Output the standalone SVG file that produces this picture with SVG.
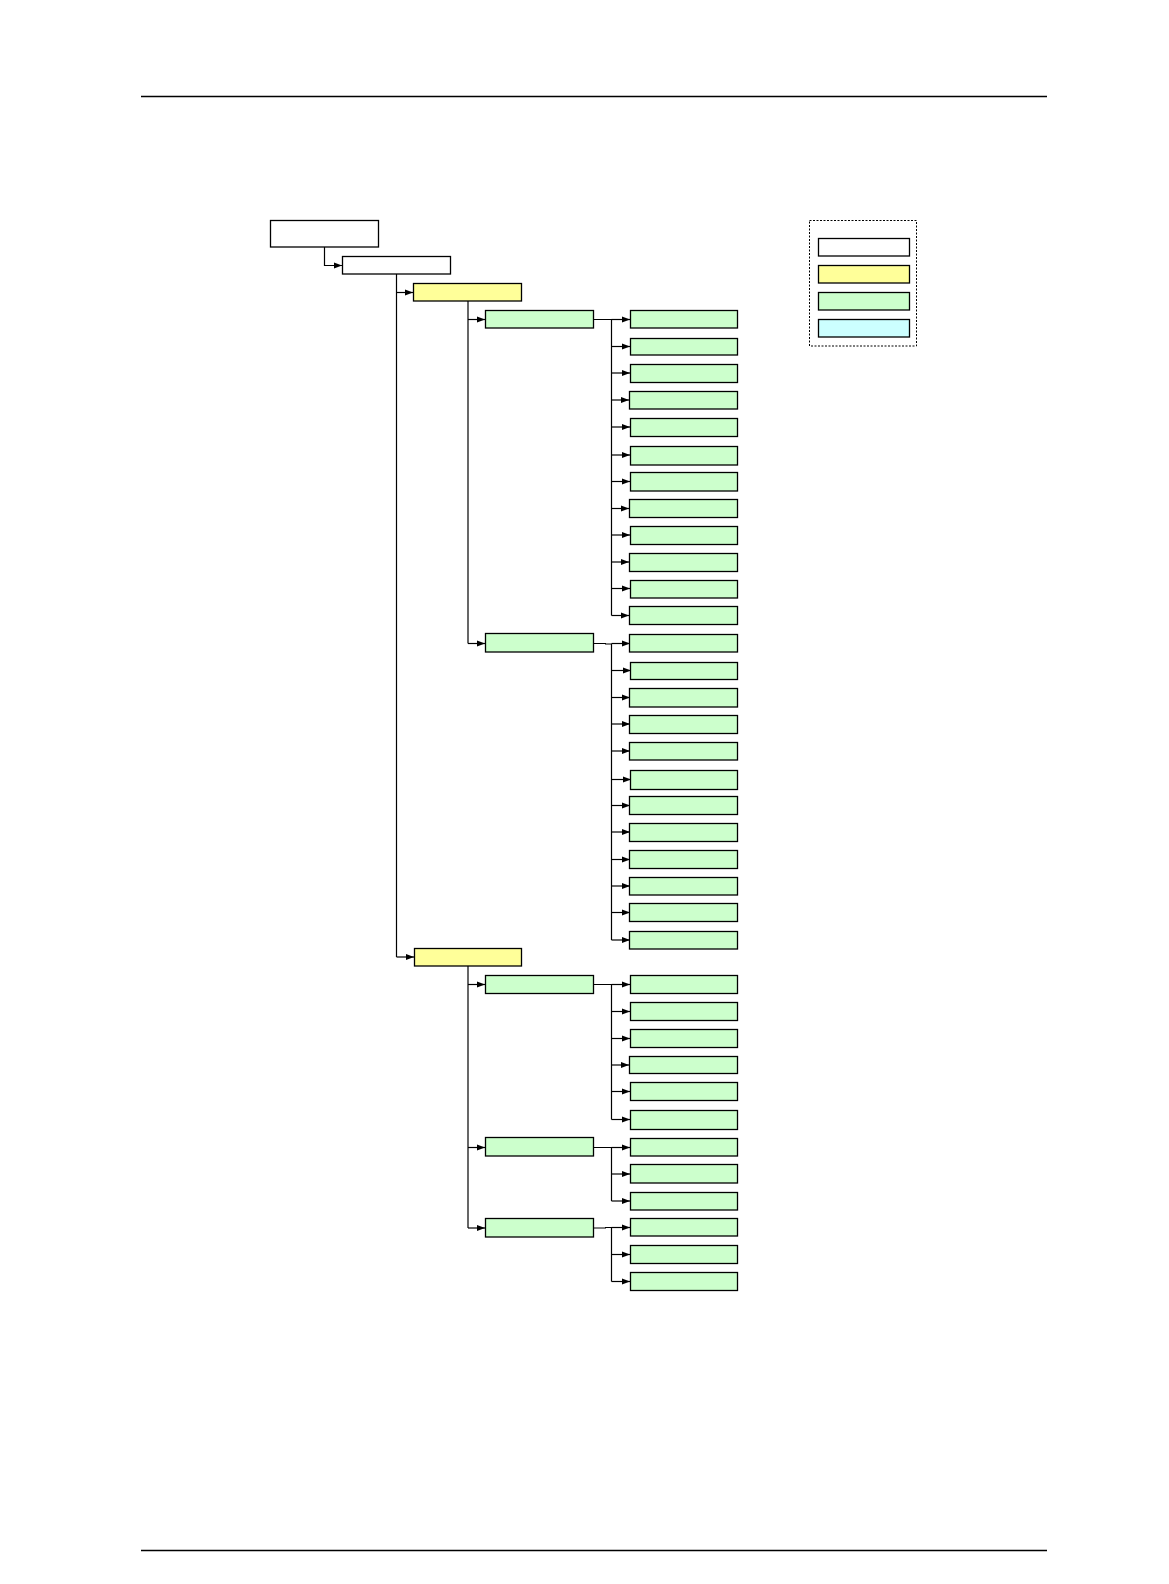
<svg xmlns="http://www.w3.org/2000/svg" width="1169" height="1584" viewBox="0 0 1169 1584">
<style>
.box{stroke:#000;stroke-width:1.3}
.w{fill:#ffffff}
.y{fill:#ffff99}
.g{fill:#ccffcc}
.c{fill:#ccffff}
.ln{fill:none;stroke:#000;stroke-width:1.2}
.arr{fill:none;stroke:#000;stroke-width:1.2;marker-end:url(#ah)}
.rule{stroke:#000;stroke-width:1.3}
</style>
<defs>
<marker id="ah" markerUnits="userSpaceOnUse" markerWidth="9" markerHeight="7" refX="8" refY="3.5" orient="auto">
<path d="M0,0.5 L8,3.5 L0,6.5 z" fill="#000"/>
</marker>
</defs>
<rect width="1169" height="1584" fill="#fff"/>
<line class="rule" x1="141" y1="96.5" x2="1047" y2="96.5"/>
<line class="rule" x1="141" y1="1550.5" x2="1047" y2="1550.5"/>

<g id="connectors">
<path class="arr" d="M324.5,247 V265.5 H342"/>
<path class="ln" d="M396.5,274 V957"/>
<path class="arr" d="M396.5,292.5 H413"/>
<path class="arr" d="M396.5,957 H414"/>
<path class="ln" d="M468,301 V643.5"/>
<path class="arr" d="M468,319.5 H485"/>
<path class="arr" d="M468,643.5 H485"/>
<path class="ln" d="M468,966 V1228"/>
<path class="arr" d="M468,984.5 H485"/>
<path class="arr" d="M468,1147.5 H485"/>
<path class="arr" d="M468,1228 H485"/>
<!-- group 1 -->
<path class="ln" d="M593,319.5 H611.5 V615.5"/>
<path class="arr" d="M611.5,319.5 H630"/>
<path class="arr" d="M611.5,346.5 H630"/>
<path class="arr" d="M611.5,373 H630"/>
<path class="arr" d="M611.5,400 H629"/>
<path class="arr" d="M611.5,427 H630"/>
<path class="arr" d="M611.5,455 H630"/>
<path class="arr" d="M611.5,481.5 H630"/>
<path class="arr" d="M611.5,508.5 H629"/>
<path class="arr" d="M611.5,535 H630"/>
<path class="arr" d="M611.5,562 H629"/>
<path class="arr" d="M611.5,588.5 H630"/>
<path class="arr" d="M611.5,615.5 H629"/>
<!-- group 2 -->
<path class="ln" d="M593,643.5 H606 M605,644 H611.5 V940"/>
<path class="arr" d="M611.5,643.5 H630"/>
<path class="arr" d="M611.5,670.5 H631"/>
<path class="arr" d="M611.5,697.5 H630"/>
<path class="arr" d="M611.5,724 H630"/>
<path class="arr" d="M611.5,751 H630"/>
<path class="arr" d="M611.5,779.5 H631"/>
<path class="arr" d="M611.5,805.5 H630"/>
<path class="arr" d="M611.5,832 H630"/>
<path class="arr" d="M611.5,859.5 H630"/>
<path class="arr" d="M611.5,886 H630"/>
<path class="arr" d="M611.5,912.5 H630"/>
<path class="arr" d="M611.5,940 H630"/>
<!-- group 3 -->
<path class="ln" d="M593,984.5 H611.5 V1119.5"/>
<path class="arr" d="M611.5,984.5 H630"/>
<path class="arr" d="M611.5,1011.5 H630"/>
<path class="arr" d="M611.5,1038.5 H630"/>
<path class="arr" d="M611.5,1065 H629"/>
<path class="arr" d="M611.5,1091.5 H630"/>
<path class="arr" d="M611.5,1119.5 H630"/>
<!-- group 4 -->
<path class="ln" d="M593,1147.5 H611.5 V1201"/>
<path class="arr" d="M611.5,1147.5 H630"/>
<path class="arr" d="M611.5,1174 H630"/>
<path class="arr" d="M611.5,1201 H630"/>
<!-- group 5 -->
<path class="ln" d="M593,1228 H606 M605,1227.5 H611.5 V1281.5"/>
<path class="arr" d="M611.5,1227.5 H630"/>
<path class="arr" d="M611.5,1254.5 H630"/>
<path class="arr" d="M611.5,1281.5 H630"/>
</g>

<g id="root"><rect class="box w" x="270.5" y="220.5" width="108" height="26.5"/></g>
<g id="level1"><rect class="box w" x="342.5" y="256.5" width="108" height="17.5"/></g>
<g id="yellow1"><rect class="box y" x="413.5" y="283.5" width="108" height="17.5"/></g>
<g id="yellow2"><rect class="box y" x="414.5" y="948.5" width="107" height="17.5"/></g>
<g id="green1"><rect class="box g" x="485.5" y="310.5" width="108" height="17.5"/></g>
<g id="green2"><rect class="box g" x="485.5" y="633.5" width="108" height="18.5"/></g>
<g id="green3"><rect class="box g" x="485.5" y="975.5" width="108" height="18"/></g>
<g id="green4"><rect class="box g" x="485.5" y="1137.5" width="108" height="18.5"/></g>
<g id="green5"><rect class="box g" x="485.5" y="1218.5" width="108" height="18.5"/></g>

<g id="leaves1">
<rect class="box g" x="630.5" y="310.5" width="107" height="17.5"/>
<rect class="box g" x="630.5" y="338.5" width="107" height="16.5"/>
<rect class="box g" x="630.5" y="364.5" width="107" height="18"/>
<rect class="box g" x="629.5" y="391.5" width="108" height="17.5"/>
<rect class="box g" x="630.5" y="418.5" width="107" height="18"/>
<rect class="box g" x="630.5" y="446.5" width="107" height="18.5"/>
<rect class="box g" x="630.5" y="472.5" width="107" height="18.5"/>
<rect class="box g" x="629.5" y="499.5" width="108" height="18"/>
<rect class="box g" x="630.5" y="526.5" width="107" height="18"/>
<rect class="box g" x="629.5" y="553.5" width="108" height="18"/>
<rect class="box g" x="630.5" y="580.5" width="107" height="17.5"/>
<rect class="box g" x="629.5" y="606.5" width="108" height="18"/>
</g>
<g id="leaves2">
<rect class="box g" x="629.5" y="634.5" width="108" height="17.5"/>
<rect class="box g" x="630.5" y="662.5" width="107" height="17"/>
<rect class="box g" x="629.5" y="688.5" width="108" height="18.5"/>
<rect class="box g" x="629.5" y="715.5" width="108" height="18"/>
<rect class="box g" x="629.5" y="742.5" width="108" height="17.5"/>
<rect class="box g" x="630.5" y="770.5" width="107" height="19"/>
<rect class="box g" x="629.5" y="796.5" width="108" height="18"/>
<rect class="box g" x="629.5" y="823.5" width="108" height="18"/>
<rect class="box g" x="629.5" y="850.5" width="108" height="18"/>
<rect class="box g" x="629.5" y="877.5" width="108" height="17.5"/>
<rect class="box g" x="629.5" y="903.5" width="108" height="18"/>
<rect class="box g" x="629.5" y="931.5" width="108" height="17.5"/>
</g>
<g id="leaves3">
<rect class="box g" x="630.5" y="975.5" width="107" height="18"/>
<rect class="box g" x="630.5" y="1002.5" width="107" height="18"/>
<rect class="box g" x="630.5" y="1029.5" width="107" height="18"/>
<rect class="box g" x="629.5" y="1056.5" width="108" height="17"/>
<rect class="box g" x="630.5" y="1082.5" width="107" height="18"/>
<rect class="box g" x="630.5" y="1110.5" width="107" height="19"/>
</g>
<g id="leaves4">
<rect class="box g" x="630.5" y="1138.5" width="107" height="17.5"/>
<rect class="box g" x="630.5" y="1164.5" width="107" height="18.5"/>
<rect class="box g" x="630.5" y="1192.5" width="107" height="17.5"/>
</g>
<g id="leaves5">
<rect class="box g" x="630.5" y="1218.5" width="107" height="17.5"/>
<rect class="box g" x="630.5" y="1245.5" width="107" height="18"/>
<rect class="box g" x="630.5" y="1272.5" width="107" height="18"/>
</g>

<g id="legend">
<rect x="809.5" y="220.5" width="107" height="125.5" fill="none" stroke="#000" stroke-width="1" stroke-dasharray="2,1.5"/>
<rect class="box w" x="818.5" y="238.5" width="91" height="17.5"/>
<rect class="box y" x="818.5" y="265.5" width="91" height="17.5"/>
<rect class="box g" x="818.5" y="292.5" width="91" height="17.5"/>
<rect class="box c" x="818.5" y="319.5" width="91" height="17.5"/>
</g>
</svg>
